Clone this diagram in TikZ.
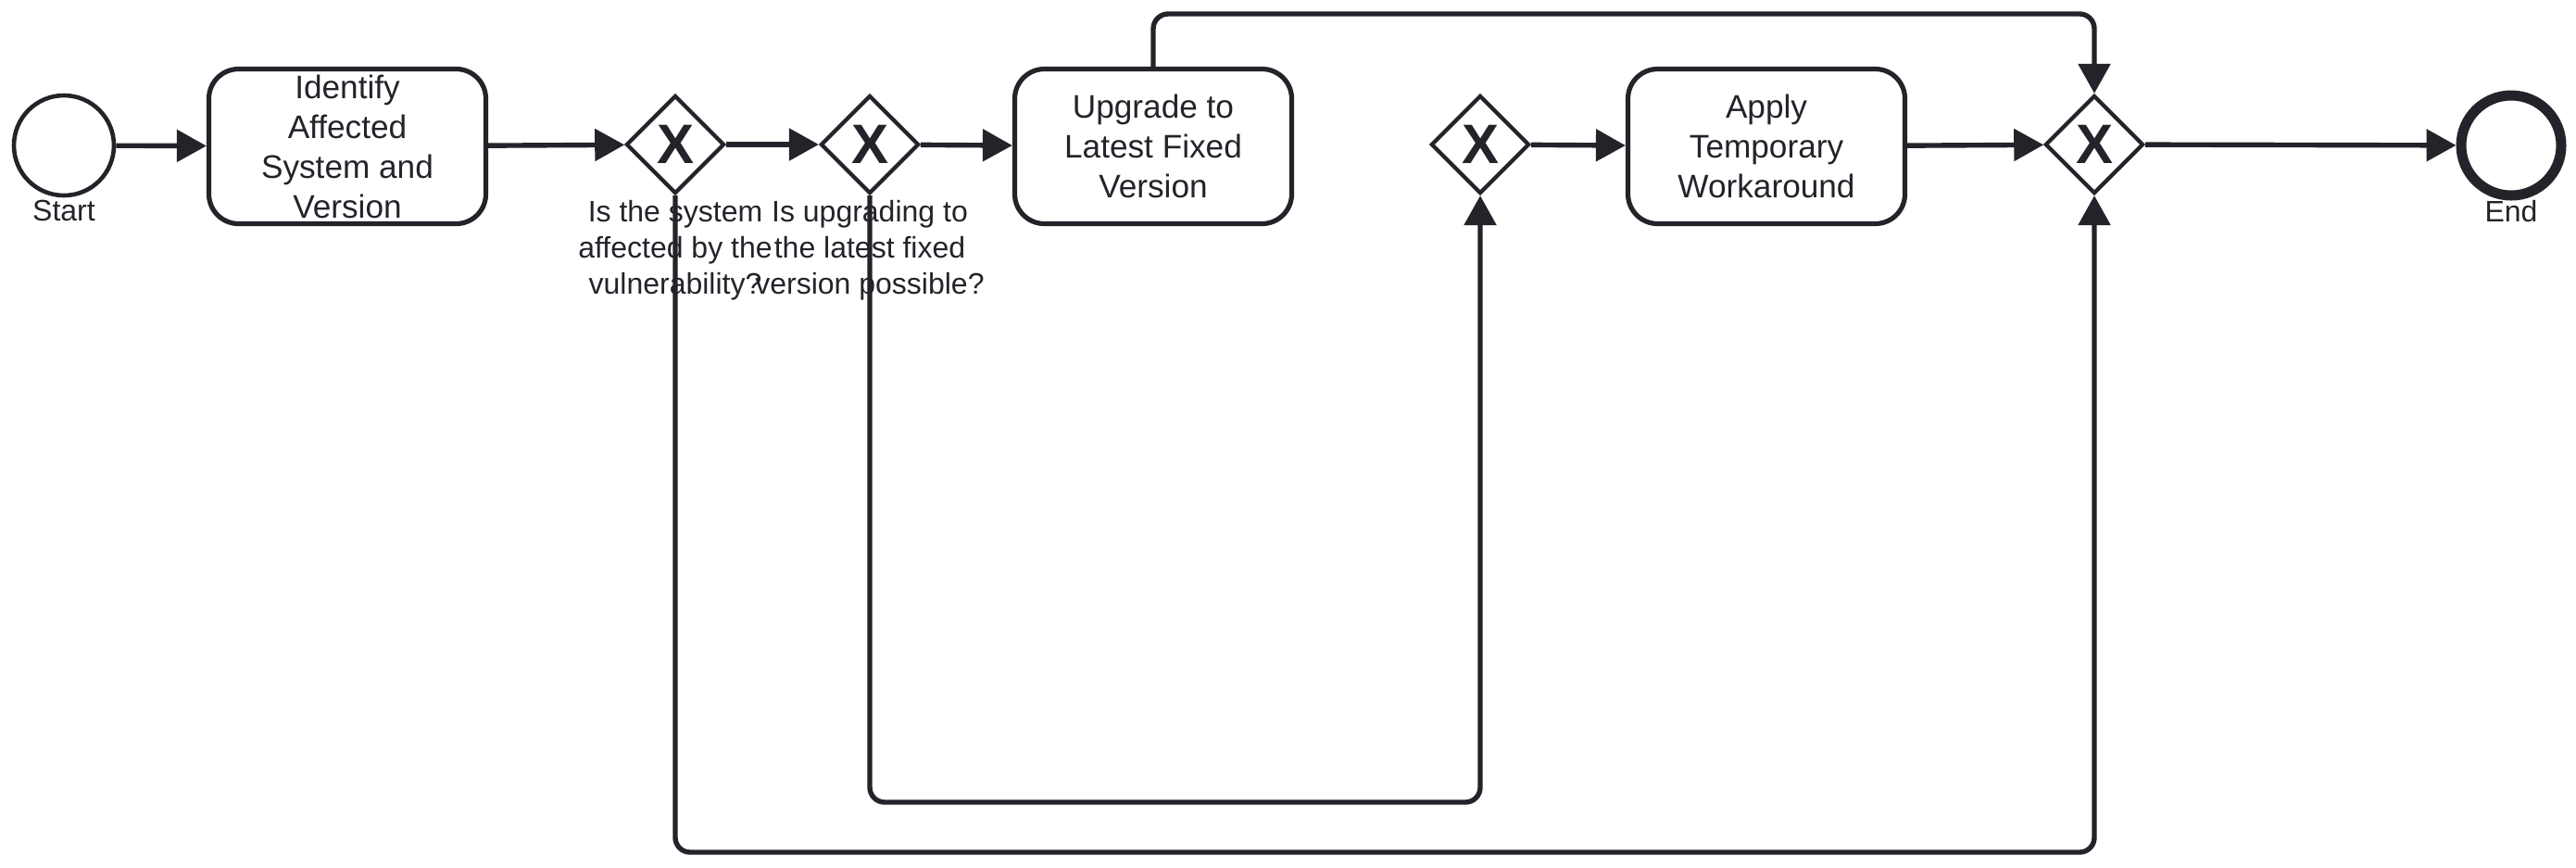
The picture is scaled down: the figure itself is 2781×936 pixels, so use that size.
\documentclass[tikz,border=0pt]{standalone}
\usepackage{fontspec}
\setmainfont{Liberation Sans}
\usepackage{tikz}
\usetikzlibrary{arrows.meta}
\tikzset{>={Triangle[length=8pt,width=8.5pt]}}
\usetikzlibrary{shapes.geometric}
\definecolor{ink}{RGB}{34,36,42}
\tikzset{
  task/.style={draw=ink, line width=1.3pt, rounded corners=8pt, minimum width=74.75pt, minimum height=41.75pt, align=center, inner sep=0pt, text=ink, font=\fontsize{8.8pt}{10.75pt}\selectfont},
  gateway/.style={draw=ink, diamond, aspect=1, line width=1.05pt, minimum width=26.5pt, minimum height=26.5pt, inner sep=0pt, text=ink, font=\fontsize{15pt}{15pt}\selectfont\bfseries},
  startev/.style={draw=ink, circle, line width=1.15pt, minimum size=27pt, inner sep=0pt},
  endev/.style={draw=ink, circle, line width=2.75pt, minimum size=27pt, inner sep=0pt},
  lbl/.style={align=center, inner sep=0pt, anchor=north, text=ink, font=\fontsize{8pt}{9.8pt}\selectfont},
  flow/.style={->, draw=ink, line width=1.35pt, rounded corners=4pt},
}

\begin{document}
\begin{tikzpicture}[x=0.25pt, y=-0.25pt]
    \useasboundingbox (0,0) rectangle (2781,936);
    % events and tasks
    \node[startev] (start) at (69,157) {};
    \node[task] (identify) at (375,158) {Identify\\Affected\\System and\\Version};
    \node[gateway] (affected) at (729,156) {X};
    \node[gateway] (possible) at (939,156) {X};
    \node[task] (upgrade) at (1245,158) {Upgrade to\\Latest Fixed\\Version};
    \node[gateway] (nofix) at (1598,156) {X};
    \node[task] (workaround) at (1907,158) {Apply\\Temporary\\Workaround};
    \node[gateway] (join) at (2261,156) {X};
    \node[endev] (end) at (2711,157) {};
    % labels
    \node[lbl] (startlbl) at (69,215) {Start};
    \node[lbl] (affectedlbl) at (729,215) {Is the system\\affected by the\\vulnerability?};
    \node[lbl] (possiblelbl) at (939,215) {Is upgrading to\\the latest fixed\\version possible?};
    \node[lbl] (endlbl) at (2711,215) {End};
    % routing levels
    \coordinate (toprow) at (0,15);
    \coordinate (lowrow) at (0,866);
    \coordinate (bottomrow) at (0,920);
    % sequence flows
    \draw[flow] (start) -- (identify);
    \draw[flow] (identify) -- (affected);
    \draw[flow] (affected) -- (possible);
    \draw[flow] (possible) -- (upgrade);
    \draw[flow] (nofix) -- (workaround);
    \draw[flow] (workaround) -- (join);
    \draw[flow] (join) -- (end);
    \draw[flow] (upgrade.north) |- (join.north |- toprow) -- (join.north);
    \draw[flow] (possible.south) |- (nofix.south |- lowrow) -- (nofix.south);
    \draw[flow] (affected.south) |- (join.south |- bottomrow) -- (join.south);
\end{tikzpicture}
\end{document}
